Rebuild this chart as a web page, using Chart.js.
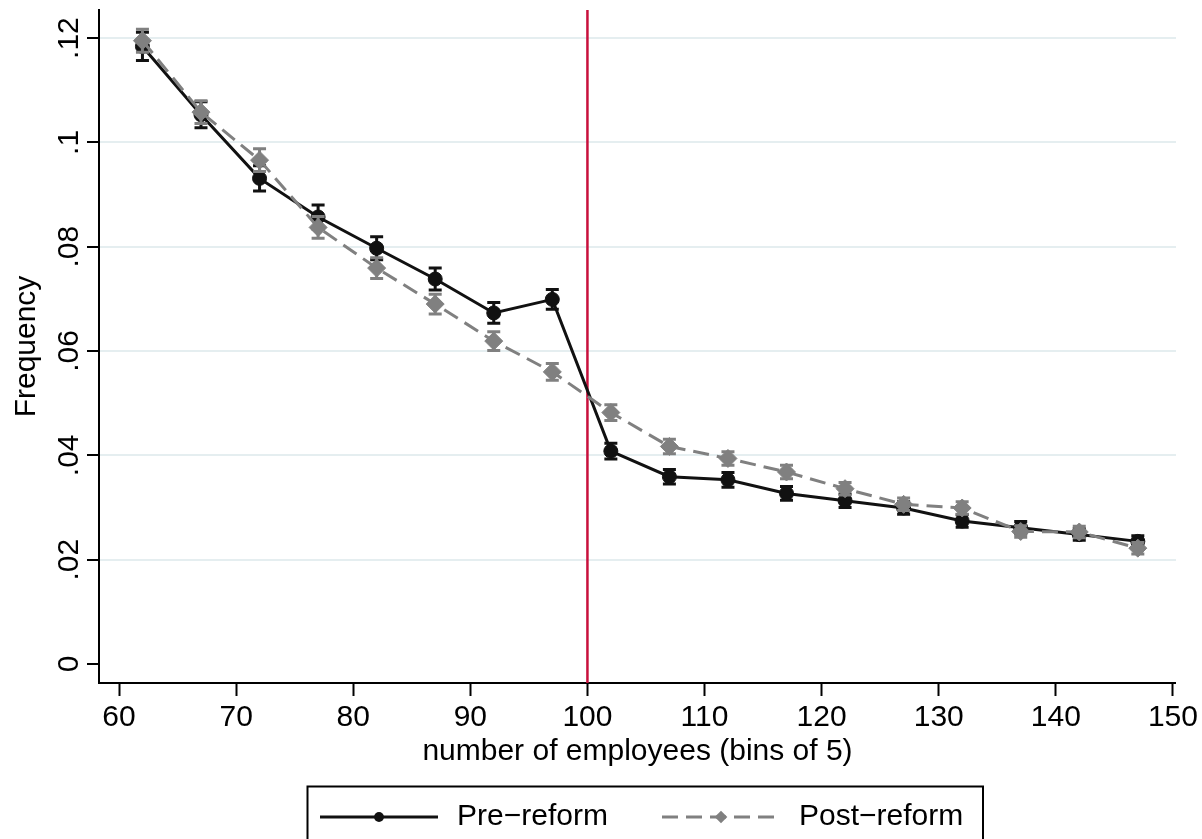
<!DOCTYPE html>
<html>
<head>
<meta charset="utf-8">
<title>Firm size distribution around the 100-employee threshold</title>
<script src="https://cdn.jsdelivr.net/npm/chart.js@4.4.1/dist/chart.umd.min.js"></script>
<style>
  html, body { margin: 0; padding: 0; background: #fff; }
  #wrap { width: 1202px; height: 839px; }
  canvas { display: block; }
</style>
</head>
<body>
<div id="wrap"><canvas id="freqChart" width="1202" height="839"></canvas></div>
<script>
// bin midpoints, bins of 5 employees
const binMid = [62, 67, 72, 77, 82, 87, 92, 97, 102, 107, 112, 117, 122, 127, 132, 137, 142, 147];

// share of firms per bin and half-width of the confidence interval
const preReform = [0.1184, 0.1053, 0.0931, 0.0857, 0.0797, 0.0738, 0.0673, 0.0699, 0.0408, 0.0359, 0.0353, 0.0327, 0.0313, 0.0299, 0.0274, 0.0261, 0.0248, 0.0235];
const preCI = [0.0027, 0.0025, 0.0024, 0.0023, 0.0022, 0.0021, 0.0020, 0.0019, 0.0015, 0.0014, 0.0014, 0.0013, 0.0013, 0.0012, 0.0012, 0.0012, 0.0011, 0.0011];
const postReform = [0.1195, 0.1058, 0.0966, 0.0837, 0.0759, 0.0690, 0.0619, 0.0560, 0.0482, 0.0417, 0.0394, 0.0368, 0.0336, 0.0306, 0.0299, 0.0254, 0.0253, 0.0222];
const postCI = [0.0022, 0.0022, 0.0022, 0.0021, 0.0020, 0.0019, 0.0018, 0.0016, 0.0015, 0.0014, 0.0013, 0.0013, 0.0012, 0.0012, 0.0012, 0.0011, 0.0011, 0.0011];

const threshold = 100;
const xTicks = [60, 70, 80, 90, 100, 110, 120, 130, 140, 150];
const yTicks = [0, 0.02, 0.04, 0.06, 0.08, 0.1, 0.12];
const yTickLabels = ['0', '.02', '.04', '.06', '.08', '.1', '.12'];

const FONT = "'Liberation Sans', Arial, Helvetica, sans-serif";
Chart.defaults.font.family = FONT;
Chart.defaults.font.size = 30;
Chart.defaults.color = '#000';

const toPoints = vals => binMid.map((b, i) => ({ x: b, y: vals[i] }));

// vertical line at the threshold, under the series
const thresholdLine = {
    id: 'thresholdLine',
    beforeDatasetsDraw(chart) {
        const { ctx, chartArea, scales: { x } } = chart;
        const px = x.getPixelForValue(threshold);
        ctx.save();
        ctx.strokeStyle = '#c8103c';
        ctx.lineWidth = 2.5;
        ctx.beginPath();
        ctx.moveTo(px, chartArea.top);
        ctx.lineTo(px, chartArea.bottom);
        ctx.stroke();
        ctx.restore();
    }
};

// capped error bars, drawn just before each series
const errorBars = {
    id: 'errorBars',
    beforeDatasetDraw(chart, args) {
        const ds = chart.data.datasets[args.index];
        if (!ds.errors) return;
        const { ctx, scales: { x, y } } = chart;
        ctx.save();
        ctx.strokeStyle = ds.borderColor;
        ctx.lineWidth = 3;
        ds.data.forEach((p, i) => {
            const px = x.getPixelForValue(p.x);
            const lo = y.getPixelForValue(p.y - ds.errors[i]);
            const hi = y.getPixelForValue(p.y + ds.errors[i]);
            ctx.beginPath();
            ctx.moveTo(px, lo); ctx.lineTo(px, hi);
            ctx.moveTo(px - 6.5, lo); ctx.lineTo(px + 6.5, lo);
            ctx.moveTo(px - 6.5, hi); ctx.lineTo(px + 6.5, hi);
            ctx.stroke();
        });
        ctx.restore();
    }
};

// boxed legend below the x-axis title (runs off the bottom edge)
const boxLegend = {
    id: 'boxLegend',
    afterDraw(chart) {
        const { ctx } = chart;
        const boxTop = 786.5, rowY = 817, sample = 118;
        const starts = [320, 662];
        ctx.save();
        ctx.strokeStyle = '#000';
        ctx.lineWidth = 2;
        ctx.strokeRect(307.5, boxTop, 675.5, 90);
        chart.data.datasets.forEach((ds, i) => {
            const x0 = starts[i];
            ctx.strokeStyle = ds.borderColor;
            ctx.lineWidth = ds.borderWidth;
            ctx.setLineDash(ds.borderDash || []);
            ctx.beginPath();
            ctx.moveTo(x0, rowY);
            ctx.lineTo(x0 + sample, rowY);
            ctx.stroke();
            ctx.setLineDash([]);
            const cx = x0 + sample / 2;
            const r = ds.pointRadius * 0.7;
            ctx.fillStyle = ds.pointBackgroundColor;
            ctx.beginPath();
            if (ds.pointStyle === 'rectRot') {
                ctx.moveTo(cx, rowY - r); ctx.lineTo(cx + r, rowY);
                ctx.lineTo(cx, rowY + r); ctx.lineTo(cx - r, rowY);
                ctx.closePath();
            } else {
                ctx.arc(cx, rowY, r, 0, Math.PI * 2);
            }
            ctx.fill();
            ctx.fillStyle = '#000';
            ctx.font = '30px ' + FONT;
            ctx.textBaseline = 'middle';
            ctx.textAlign = 'left';
            ctx.fillText(ds.label, x0 + sample + 19, rowY);
        });
        ctx.restore();
    }
};

new Chart(document.getElementById('freqChart'), {
    type: 'line',
    data: {
        datasets: [
            {
                label: 'Pre\u2212reform',
                data: toPoints(preReform),
                errors: preCI,
                borderColor: '#111111',
                backgroundColor: '#111111',
                borderWidth: 3,
                pointStyle: 'circle',
                pointRadius: 7,
                pointBackgroundColor: '#111111',
                pointBorderColor: '#111111',
                pointBorderWidth: 1,
                tension: 0,
                order: 2
            },
            {
                label: 'Post\u2212reform',
                data: toPoints(postReform),
                errors: postCI,
                borderColor: '#808080',
                backgroundColor: '#808080',
                borderWidth: 3,
                borderDash: [16, 8],
                pointStyle: 'rectRot',
                pointRadius: 9,
                pointBackgroundColor: '#808080',
                pointBorderColor: '#808080',
                pointBorderWidth: 1,
                tension: 0,
                order: 1
            }
        ]
    },
    options: {
        responsive: false,
        animation: false,
        layout: { padding: { left: 0, top: 4, right: 0, bottom: 64 } },
        plugins: {
            legend: { display: false },
            tooltip: { enabled: false }
        },
        scales: {
            x: {
                type: 'linear',
                min: 58.29,
                max: 150.26,
                afterBuildTicks: s => { s.ticks = xTicks.map(v => ({ value: v })); },
                afterFit: s => { s.height = 92; },
                ticks: { padding: 4, maxRotation: 0, font: { size: 30 } },
                grid: { drawOnChartArea: false, drawTicks: true, tickLength: 13, tickColor: '#000', tickWidth: 2 },
                border: { display: true, color: '#000', width: 2 },
                title: {
                    display: true,
                    text: 'number of employees (bins of 5)',
                    font: { size: 30 },
                    padding: { top: 0, bottom: 5 }
                }
            },
            y: {
                min: -0.003654,
                max: 0.125385,
                afterBuildTicks: s => { s.ticks = yTicks.map(v => ({ value: v })); },
                afterFit: s => { s.width = 99; },
                ticks: {
                    minRotation: 90,
                    maxRotation: 90,
                    crossAlign: 'center',
                    padding: -4,
                    font: { size: 30, lineHeight: 0.8 },
                    callback: (v, i) => yTickLabels[i]
                },
                grid: {
                    color: c => (c.tick && c.tick.value === 0) ? 'rgba(0,0,0,0)' : '#e5eef0',
                    lineWidth: 2,
                    drawTicks: true,
                    tickLength: 12,
                    tickColor: '#000',
                    tickWidth: 2
                },
                border: { display: true, color: '#000', width: 2 },
                title: {
                    display: true,
                    text: 'Frequency',
                    font: { size: 30 },
                    padding: { top: 9, bottom: 0 }
                }
            }
        }
    },
    plugins: [thresholdLine, errorBars, boxLegend]
});
</script>
</body>
</html>
